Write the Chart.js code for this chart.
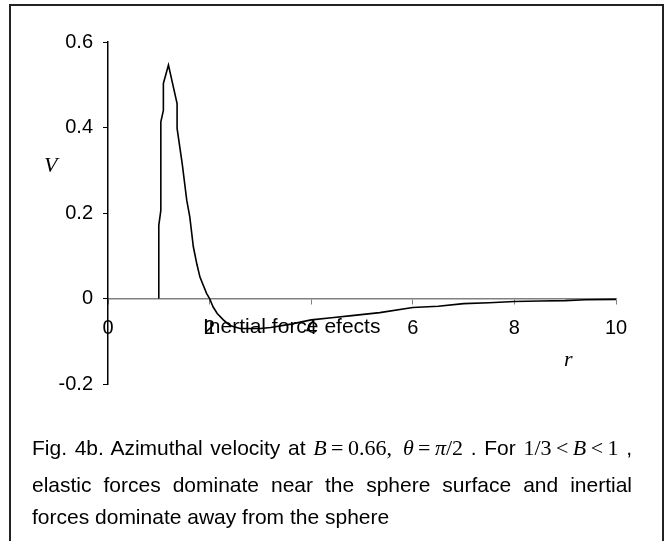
<!DOCTYPE html>
<html>
<head>
<meta charset="utf-8">
<script src="https://cdn.jsdelivr.net/npm/chart.js@4"></script>
<style>
  body { margin: 0; background: #fff; }
  #wrap { position: relative; width: 665px; height: 541px; overflow: hidden; font-family: "Liberation Sans", Arial, sans-serif; }
  #frame { position: absolute; left: 9px; top: 4px; width: 651px; height: 560px; border: 2px solid #222; }
  #chart { position: absolute; left: 0; top: 0; }
  .lbl { position: absolute; white-space: nowrap; color: #000; }
  .m { font-family: "Liberation Serif", "Times New Roman", serif; display: inline-block; white-space: nowrap; font-size: 22px; }
  .i { font-style: italic; }
  .cap { position: absolute; left: 32px; width: 600px; font-size: 21px; line-height: 24px; white-space: nowrap; }
  .just { text-align: justify; text-align-last: justify; white-space: normal; }
</style>
</head>
<body>
<div id="wrap">
  <div id="frame"></div>
  <canvas id="chart" width="665" height="541"></canvas>
  <div class="lbl m i" style="left:44px; top:152px;">V</div>
  <div class="lbl m i" style="left:564px; top:346px;">r</div>
  <div class="lbl" style="left:203px; top:314px; font-size:21px;">Inertial force efects</div>
  <div class="cap just" style="top:436px;">Fig. 4b. Azimuthal velocity at <span class="m"><span class="i">B</span>&thinsp;=&thinsp;0.66,&nbsp; <span class="i">θ</span>&thinsp;=&thinsp;<span class="i">π</span>/2</span> . For <span class="m">1/3&thinsp;&lt;&thinsp;<span class="i">B</span>&thinsp;&lt;&thinsp;1</span> ,</div>
  <div class="cap just" style="top:473px;">elastic forces dominate near the sphere surface and inertial</div>
  <div class="cap" style="top:505px;">forces dominate away from the sphere</div>
</div>
<script>
// radius r and azimuthal velocity V
const rValues = [1.0, 1.0, 1.04, 1.04, 1.09, 1.09, 1.19, 1.36, 1.36, 1.46, 1.55, 1.61, 1.68, 1.75, 1.81, 1.94, 2.0,
                 2.07, 2.15, 2.27, 2.4, 2.6, 3.0, 3.2, 3.6, 4.0, 4.4, 4.8, 5.35, 6.0, 6.5, 7.0, 7.5, 8.0, 8.5, 9.0, 9.4, 10.0];
const vValues = [0, 0.171, 0.206, 0.413, 0.44, 0.503, 0.546, 0.456, 0.398, 0.316, 0.23, 0.191, 0.121, 0.08, 0.05, 0.012, 0,
                 -0.02, -0.035, -0.05, -0.063, -0.07, -0.07, -0.068, -0.06, -0.05, -0.045, -0.04, -0.033, -0.021, -0.018, -0.012, -0.01, -0.007, -0.006, -0.005, -0.003, -0.002];

const xTicks = [0, 2, 4, 6, 8, 10];
const yTicks = [-0.2, 0, 0.2, 0.4, 0.6];
const yTickLabels = ["-0.2", "0", "0.2", "0.4", "0.6"];

const points = rValues.map((r, i) => ({ x: r, y: vValues[i] }));

new Chart(document.getElementById("chart"), {
    type: "scatter",
    data: {
        datasets: [{
            data: points,
            showLine: true,
            borderColor: "#000",
            borderWidth: 1.6,
            pointRadius: 0,
            tension: 0,
            fill: false
        }]
    },
    options: {
        responsive: false,
        animation: false,
        layout: { padding: { left: 48, top: 42, right: 49, bottom: 157 } },
        plugins: { legend: { display: false }, tooltip: { enabled: false } },
        scales: {
            x: {
                type: "linear",
                position: { y: 0 },
                min: 0,
                max: 10,
                afterBuildTicks: s => { s.ticks = xTicks.map(v => ({ value: v })); },
                ticks: {
                    color: "#000",
                    font: { family: "Liberation Sans", size: 20 },
                    padding: 13,
                    maxRotation: 0
                },
                grid: { drawOnChartArea: false, tickLength: 5, color: "#808080" },
                border: { color: "#808080", width: 1.5 }
            },
            y: {
                min: -0.2,
                max: 0.6,
                afterBuildTicks: s => { s.ticks = yTicks.map(v => ({ value: v })); },
                afterFit: s => { s.width = 60; },
                ticks: {
                    color: "#000",
                    font: { family: "Liberation Sans", size: 20 },
                    padding: 10,
                    callback: (v, i) => yTickLabels[i]
                },
                grid: { drawOnChartArea: false, tickLength: 5, color: "#000" },
                border: { color: "#000", width: 1.5 }
            }
        }
    }
});
</script>
</body>
</html>
